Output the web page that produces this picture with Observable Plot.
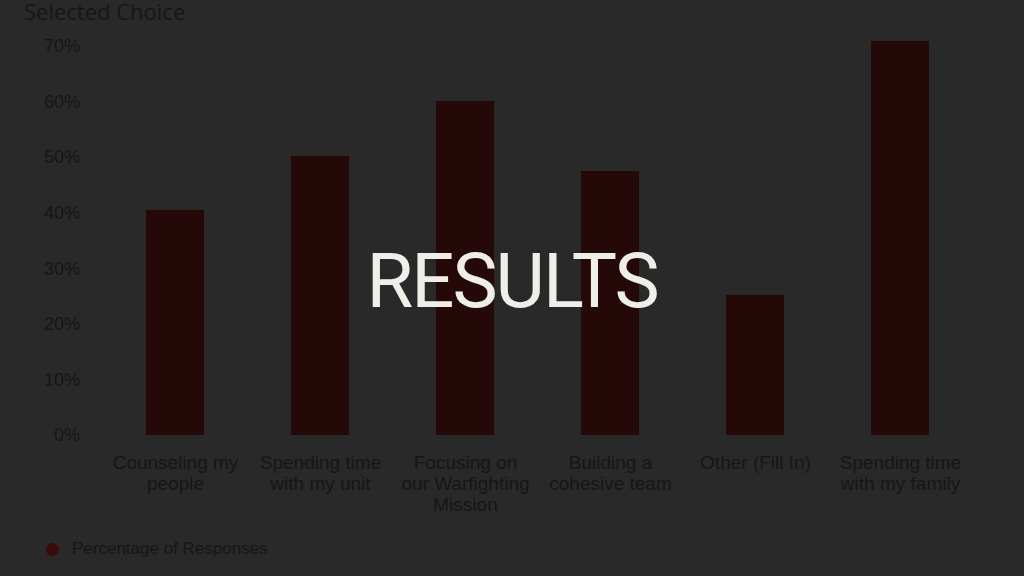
<!DOCTYPE html>
<html>
<head>
<meta charset="utf-8">
<script src="https://cdn.jsdelivr.net/npm/d3@7"></script>
<script src="https://cdn.jsdelivr.net/npm/@observablehq/plot@0.6"></script>
<style>
  html, body { margin: 0; padding: 0; background: #292929; width: 1024px; height: 576px; overflow: hidden; }
  #wrap { position: relative; width: 1024px; height: 576px; }
  #chart { position: absolute; left: 0; top: 0; }
  #title { position: absolute; left: 24px; top: 0px; line-height: 22px; font-family: "Open Sans", sans-serif; font-size: 22px; color: #161616; }
  #legend { position: absolute; left: 46px; top: 539px; font-family: "Liberation Sans", Arial, sans-serif; font-size: 17px; color: #161616; display: flex; align-items: center; }
  #legend .dot { width: 13px; height: 13px; border-radius: 50%; background: #3a0a0d; margin-right: 13px; }
  #overlay { position: absolute; left: 0; width: 1024px; top: 237px; text-align: center; font-family: Roboto, sans-serif; font-size: 76px; color: #efeee9; letter-spacing: -2px; line-height: 88px; }
</style>
</head>
<body>
<div id="wrap">
  <div id="chart"></div>
  <div id="title">Selected Choice</div>
  <div id="legend"><span class="dot"></span><span>Percentage of Responses</span></div>
  <div id="overlay">RESULTS</div>
</div>
<script>
const categories = [
  "Counseling my\npeople",
  "Spending time\nwith my unit",
  "Focusing on\nour Warfighting\nMission",
  "Building a\ncohesive team",
  "Other (Fill In)",
  "Spending time\nwith my family"
];
const values = [0.405, 0.502, 0.601, 0.475, 0.252, 0.709];
const yTicks = [0, 0.1, 0.2, 0.3, 0.4, 0.5, 0.6, 0.7];

const data = categories.map((c, i) => ({category: c, value: values[i]}));

const chart = Plot.plot({
  width: 1024,
  height: 576,
  marginLeft: 102.5,
  marginRight: 51.5,
  marginTop: 46,
  marginBottom: 141,
  style: {background: "transparent", color: "#161616"},
  x: {domain: categories, paddingInner: 0.6, paddingOuter: 0.3, axis: null},
  y: {domain: [0, 0.7], axis: null},
  marks: [
    Plot.barY(data, {x: "category", y: "value", fill: "#250808"}),
    Plot.axisY({ticks: yTicks, tickFormat: d => Math.round(d * 100) + "%", tickSize: 0, tickPadding: 23, label: null, fontSize: 18, fill: "#161616", fontFamily: "Liberation Sans, Arial, sans-serif"}),
    Plot.text(categories, {x: d => d, y: () => 0, text: d => d, dy: 19, lineAnchor: "top", lineHeight: 1.1, fontSize: 19, fill: "#161616", fontFamily: "Liberation Sans, Arial, sans-serif"})
  ]
});
document.getElementById("chart").appendChild(chart);
</script>
</body>
</html>
